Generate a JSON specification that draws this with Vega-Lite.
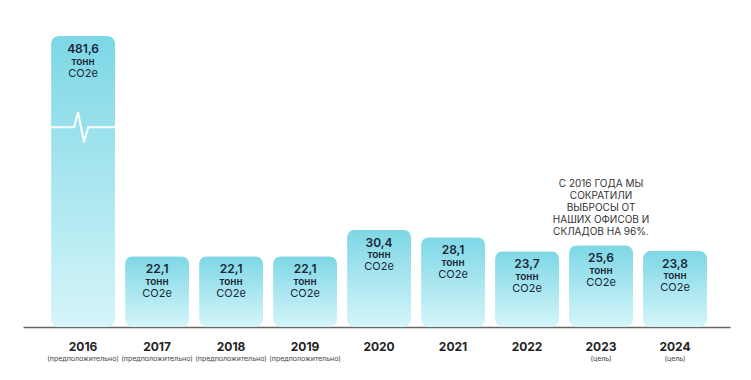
{
  "$schema": "https://vega.github.io/schema/vega-lite/v6.json",
  "autosize": "none",
  "width": 707,
  "height": 291,
  "padding": {"left": 23, "top": 36, "right": 21, "bottom": 53},
  "background": "white",
  "config": {"view": {"stroke": null}, "font": "Inter"},
  "data": {"values": [
    {"year": "2016", "value": 481.6, "label": "481,6", "sub": "(предположительно)"},
    {"year": "2017", "value": 22.1, "label": "22,1", "sub": "(предположительно)"},
    {"year": "2018", "value": 22.1, "label": "22,1", "sub": "(предположительно)"},
    {"year": "2019", "value": 22.1, "label": "22,1", "sub": "(предположительно)"},
    {"year": "2020", "value": 30.4, "label": "30,4", "sub": ""},
    {"year": "2021", "value": 28.1, "label": "28,1", "sub": ""},
    {"year": "2022", "value": 23.7, "label": "23,7", "sub": ""},
    {"year": "2023", "value": 25.6, "label": "25,6", "sub": "(цель)"},
    {"year": "2024", "value": 23.8, "label": "23,8", "sub": "(цель)"}
  ]},
  "encoding": {
    "x": {"field": "year", "type": "nominal", "sort": null,
      "scale": {"paddingInner": 0.135, "paddingOuter": 0.345, "align": 0.55},
      "axis": {"title": null, "labels": false, "ticks": false, "domain": true, "domainColor": "#666", "domainWidth": 1.5, "grid": false}},
    "y": {"field": "value", "type": "quantitative",
      "scale": {"domain": [0, 91], "clamp": true, "nice": false, "zero": true},
      "axis": null}
  },
  "layer": [
    {
      "mark": {"type": "bar", "cornerRadius": 8, "y2Offset": -2,
        "color": {"gradient": "linear", "x1": 0, "y1": 0, "x2": 0, "y2": 1,
          "stops": [{"offset": 0, "color": "#7dd7e6"}, {"offset": 1, "color": "#d5f5f9"}]}}
    },
    {
      "transform": [{"filter": "datum.year === '2016'"}],
      "mark": {"type": "point", "filled": false, "stroke": "white", "strokeWidth": 2, "opacity": 1, "size": 4096,
        "shape": "M-1,0L-0.28,0L-0.16,-0.47L0.03,0.47L0.16,0L1,0"},
      "encoding": {"y": {"datum": 62.5}}
    },
    {
      "mark": {"type": "text", "dy": 13, "baseline": "middle", "fontSize": 12, "fontWeight": 600, "color": "#1b2636"},
      "encoding": {"text": {"field": "label"}}
    },
    {
      "mark": {"type": "text", "dy": 25.5, "baseline": "middle", "fontSize": 10, "fontWeight": 600, "color": "#1b2636"},
      "encoding": {"text": {"value": "тонн"}}
    },
    {
      "mark": {"type": "text", "dy": 37.5, "baseline": "middle", "fontSize": 11, "color": "#1b2636"},
      "encoding": {"text": {"value": "CO2e"}}
    },
    {
      "mark": {"type": "text", "dy": 20, "baseline": "middle", "fontSize": 12, "fontWeight": "bold", "color": "#222"},
      "encoding": {"y": {"datum": 0}, "text": {"field": "year"}}
    },
    {
      "mark": {"type": "text", "dy": 32, "baseline": "middle", "fontSize": 7, "color": "#444"},
      "encoding": {"y": {"datum": 0}, "text": {"field": "sub"}}
    },
    {
      "transform": [{"filter": "datum.year === '2023'"}],
      "mark": {"type": "text", "dy": -66, "baseline": "top", "align": "center", "fontSize": 10, "lineHeight": 12, "letterSpacing": 0.3, "color": "#333"},
      "encoding": {"text": {"value": ["С 2016 ГОДА МЫ", "СОКРАТИЛИ", "ВЫБРОСЫ ОТ", "НАШИХ ОФИСОВ И", "СКЛАДОВ НА 96%."]}}
    }
  ]
}
